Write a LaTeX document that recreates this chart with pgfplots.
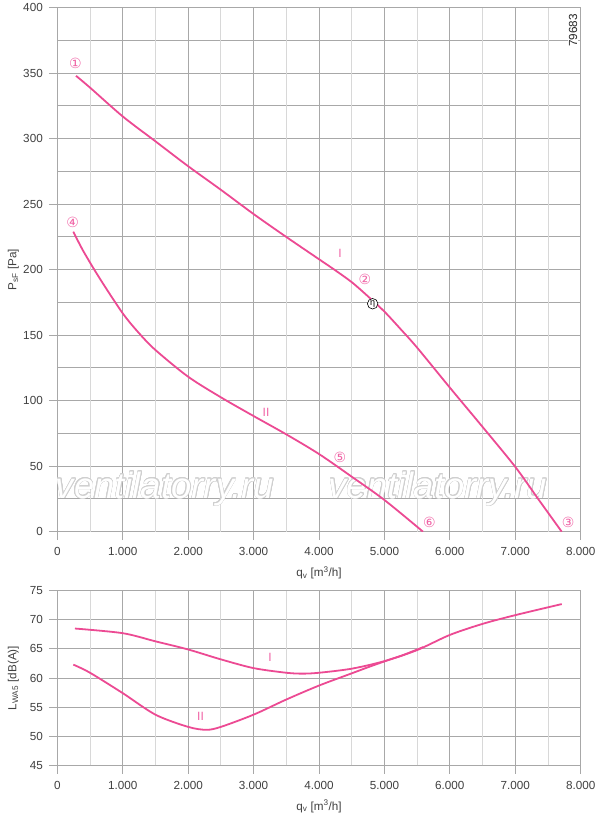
\documentclass[border=0pt]{standalone}
\usepackage{fontspec}
\setmainfont{Liberation Sans}
\newfontfamily\sym{DejaVu Sans}
\usepackage{pgfplots}
\pgfplotsset{compat=1.18}
\usepackage{contour}
\contourlength{0.6pt}
\definecolor{curve}{HTML}{EC4A93}
\definecolor{lab}{HTML}{F064A6}
\definecolor{gmaj}{HTML}{A8A8A8}
\definecolor{gmin}{HTML}{D8D8D8}
\definecolor{txt}{HTML}{404040}
\definecolor{wm}{HTML}{CFCFCF}
\begin{document}
\begin{tikzpicture}
\pgfplotsset{
  myax/.style={
    scale only axis, width=523.4pt,
    xmin=0, xmax=8000,
    axis line style={gmaj, line width=0.9pt},
    xtick={0,1000,...,8000},
    xticklabels={0,1.000,2.000,3.000,4.000,5.000,6.000,7.000,8.000},
    extra x ticks={500,1500,...,7500},
    extra x tick labels={},
    extra x tick style={grid=major, major grid style={gmin, line width=0.9pt}, major tick length=0pt},
    grid=both,
    major grid style={gmaj, line width=0.9pt},
    minor grid style={gmaj, line width=0.9pt},
    tick align=outside,
    major tick length=8.5pt,
    minor tick length=0pt,
    tick style={gmaj, line width=0.9pt},
    xtick pos=bottom, ytick pos=left,
    ticklabel style={font=\fontsize{11.7}{12}\selectfont, text=txt},
    xticklabel style={yshift=-4pt},
    yticklabel style={xshift=-2.5pt},
    label style={font=\fontsize{11.7}{12}\selectfont, text=txt},
    xlabel={q\textsubscript{v} [m\textsuperscript{3}/h]},
    xlabel style={at={(axis description cs:0.5,0)}, anchor=center, yshift=-41pt},
    ylabel style={at={(axis description cs:-0.0841,0.5)}, anchor=center},
  }
}
% ---------------- top axis ----------------
\begin{axis}[myax, name=top, height=524pt,
  ymin=0, ymax=400,
  ytick={0,50,...,400},
  yticklabels={0,50,100,150,200,250,300,350,400},
  minor ytick={25,75,...,375},
  ylabel={P\textsubscript{sF} [Pa]},
]
\node[anchor=base, font=\fontsize{36.5}{36.5}\selectfont\itshape] at (axis cs:1646,25.7) {\contour{wm}{\textcolor{white}{ventilatorry.ru}}};
\node[anchor=base, font=\fontsize{36.5}{36.5}\selectfont\itshape] at (axis cs:5818,25.7) {\contour{wm}{\textcolor{white}{ventilatorry.ru}}};
\addplot[curve, line width=1.8pt, smooth] coordinates {
(286,348) (500,339) (1000,317) (1500,298) (2000,279) (2500,261) (3000,242.5)
(3500,225) (4000,208) (4250,199.5) (4500,190.5) (4730,180.5) (5000,168)
(5250,154.5) (5500,140.5) (6000,110) (6500,80) (7000,49.5) (7350,25) (7710,0)};
\addplot[curve, line width=1.8pt, smooth] coordinates {
(245,229) (400,214) (653,193) (1000,166.7) (1250,151.5) (1500,138.7) (2000,118.3)
(2500,102.6) (3000,88.3) (3500,74.3) (4000,59.3) (4500,42) (5000,24.2) (5590,0)};
\node[text=lab, font=\sym\fontsize{14}{14}\selectfont] at (axis cs:275,357.5) {①};
\node[text=lab, font=\sym\fontsize{14}{14}\selectfont] at (axis cs:4703,192.7) {②};
\node[text=lab, font=\sym\fontsize{14}{14}\selectfont] at (axis cs:7808,7) {③};
\node[text=lab, font=\sym\fontsize{14}{14}\selectfont] at (axis cs:235,235.9) {④};
\node[text=lab, font=\sym\fontsize{14}{14}\selectfont] at (axis cs:4320,56.5) {⑤};
\node[text=lab, font=\sym\fontsize{14}{14}\selectfont] at (axis cs:5686,7) {⑥};
\node[text=lab, font=\fontsize{12}{12}\selectfont] at (axis cs:4320,212.5) {I};
\node[text=lab, font=\fontsize{12}{12}\selectfont] at (axis cs:3190,90.8) {II};
\node[draw=black, fill=white, circle, line width=0.6pt, inner sep=0pt, minimum size=10.5pt, font=\fontsize{9}{9}\selectfont] at (axis cs:4820,174) {η};
\node[rotate=90, fill=white, inner sep=1pt, font=\fontsize{11.7}{12}\selectfont, text=black!85] at (axis cs:7882,382.6) {79683};
\end{axis}
% ---------------- bottom axis ----------------
\begin{axis}[myax, name=bot, at={(top.south west)}, anchor=north west, yshift=-59pt, height=174.6pt,
  ymin=45, ymax=75,
  ytick={45,50,...,75},
  yticklabels={45,50,55,60,65,70,75},
  ylabel={L\textsubscript{WA5} [dB(A)]},
]
\addplot[curve, line width=1.8pt, smooth] coordinates {
(270,68.5) (1000,67.7) (1500,66.3) (2000,64.9) (2500,63.2) (3000,61.7) (3500,60.9)
(3750,60.75) (4000,60.9) (4500,61.6) (5000,62.9) (5500,64.8) (6000,67.4) (6500,69.3)
(7000,70.8) (7710,72.7)};
\addplot[curve, line width=1.8pt, smooth] coordinates {
(245,62.3) (500,60.9) (1000,57.4) (1500,53.7) (2000,51.6) (2280,51.1) (2500,51.6)
(3000,53.7) (3500,56.3) (4000,58.7) (4500,60.8) (4750,61.85) (5000,62.85)
(5300,64.0) (5590,65.3)};
\node[text=lab, font=\fontsize{12}{12}\selectfont] at (axis cs:3250,63.6) {I};
\node[text=lab, font=\fontsize{12}{12}\selectfont] at (axis cs:2190,53.4) {II};
\end{axis}
\pgfresetboundingbox
\useasboundingbox ([shift={(-57.3pt,-284.3pt)}]top.south west) rectangle ([shift={(542.7pt,531.7pt)}]top.south west);
\end{tikzpicture}
\end{document}
